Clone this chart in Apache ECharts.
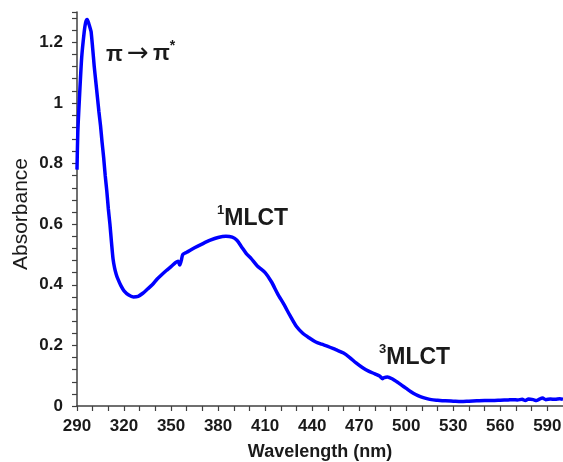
<!DOCTYPE html>
<html>
<head>
<meta charset="utf-8">
<script src="https://cdn.jsdelivr.net/npm/echarts@6/dist/echarts.min.js"></script>
<style>
  html, body { margin: 0; padding: 0; background: #fff; }
  #chart { width: 563px; height: 462px; }
</style>
</head>
<body>
<div id="chart"></div>
<script>
// UV-Vis absorption spectrum
const wavelength = [
  290, 290.5, 291.5, 293, 294.5, 295.5, 296.5, 297.5, 298.5, 299, 300, 301, 302, 303, 304, 305,
  306, 307, 308, 309, 310, 311, 312, 313, 314, 315, 316, 318, 320, 323, 326, 329, 332, 335,
  338, 341, 344, 347, 350, 353, 354.5, 355.5, 356.5, 357.5, 360, 365, 370, 375, 380, 385,
  389, 392, 395, 398, 401, 405, 410, 414, 418, 422, 426, 430, 434, 438, 442, 446, 450, 455,
  460, 464, 468, 472, 476, 480, 483, 485, 486, 488, 491, 494, 497, 500, 503, 506, 509, 512,
  516, 520, 525, 530, 535, 540, 545, 550, 555, 560, 565, 568, 571, 574, 576, 578, 581, 583,
  585, 587, 589, 592, 595, 598, 600
];
const absorbance = [
  0.78, 0.90, 1.01, 1.15, 1.23, 1.265, 1.275, 1.262, 1.245, 1.235, 1.18, 1.12, 1.07, 1.02, 0.97, 0.925,
  0.87, 0.82, 0.76, 0.71, 0.65, 0.60, 0.54, 0.485, 0.455, 0.435, 0.42, 0.397, 0.38, 0.366, 0.36, 0.362, 0.372, 0.386,
  0.40, 0.418, 0.433, 0.447, 0.46, 0.474, 0.478, 0.465, 0.48, 0.50, 0.507, 0.522, 0.535, 0.547, 0.556, 0.56,
  0.557, 0.547, 0.525, 0.503, 0.487, 0.462, 0.44, 0.41, 0.37, 0.335, 0.297, 0.262, 0.24, 0.225, 0.212, 0.204, 0.197, 0.186,
  0.175, 0.16, 0.142, 0.127, 0.115, 0.106, 0.099, 0.09, 0.094, 0.096, 0.09, 0.08, 0.069, 0.058, 0.047, 0.038, 0.031, 0.026,
  0.021, 0.019, 0.017, 0.016, 0.015, 0.016, 0.017, 0.018, 0.018, 0.019, 0.02, 0.021, 0.02, 0.022, 0.018, 0.023, 0.021, 0.018,
  0.023, 0.026, 0.021, 0.023, 0.022, 0.024, 0.022
];

const xLabelStep = 30;   // nm between labelled ticks
const yLabelStep = 0.2;  // absorbance between labelled ticks

const FONT = '"Liberation Sans", Arial, sans-serif';
const INK = '#1a1a1a';
const AXIS = '#404040';

const chart = echarts.init(document.getElementById('chart'), null, { renderer: 'canvas' });

chart.setOption({
  animation: false,
  backgroundColor: '#fff',
  grid: { left: 77, top: 12, width: 486, height: 394, containLabel: false, outerBoundsMode: 'none' },
  xAxis: {
    type: 'value',
    min: 290, max: 600, interval: 10,
    name: 'Wavelength (nm)',
    nameLocation: 'middle',
    nameGap: 37,
    nameTextStyle: { fontFamily: FONT, fontWeight: 'bold', fontSize: 18, color: INK },
    axisLine: { onZero: false, lineStyle: { color: AXIS, width: 1.5 } },
    axisTick: { show: true, length: 5, lineStyle: { color: AXIS, width: 1.2 } },
    splitLine: { show: false },
    axisLabel: {
      margin: 12,
      fontFamily: FONT, fontWeight: 'bold', fontSize: 17, color: INK,
      showMaxLabel: false,
      formatter: v => ((v - 290) % xLabelStep === 0 && v < 600) ? String(v) : ''
    }
  },
  yAxis: {
    type: 'value',
    min: 0, max: 1.3, interval: 0.04,
    axisLine: { show: true, onZero: false, lineStyle: { color: AXIS, width: 1.5 } },
    axisTick: { show: true, length: 5, lineStyle: { color: AXIS, width: 1.2 } },
    splitLine: { show: false },
    axisLabel: {
      margin: 14,
      fontFamily: FONT, fontWeight: 'bold', fontSize: 17, color: INK,
      formatter: v => {
        const k = v / yLabelStep;
        if (Math.abs(k - Math.round(k)) > 1e-6) return '';
        return String(Math.round(v * 10) / 10);
      }
    }
  },
  series: [{
    type: 'line',
    data: wavelength.map((w, i) => [w, absorbance[i]]),
    showSymbol: false,
    smooth: 0.25,
    clip: true,
    lineStyle: { color: '#0000ff', width: 3.5 },
    z: 3
  }],
  graphic: [
    {
      // y-axis title
      type: 'text', x: 21, y: 214, rotation: Math.PI / 2,
      style: {
        text: 'Absorbance',
        fontFamily: FONT, fontSize: 21, fill: INK,
        align: 'center', verticalAlign: 'middle'
      }
    },
    {
      type: 'text', x: 106, y: 55,
      style: { text: 'π', fontFamily: FONT, fontWeight: 'bold', fontSize: 22, fill: INK, verticalAlign: 'middle' }
    },
    {
      type: 'text', x: 127, y: 54,
      style: { text: '→', fontFamily: '"DejaVu Sans", sans-serif', fontSize: 26, fill: INK, verticalAlign: 'middle' }
    },
    {
      type: 'text', x: 153, y: 52,
      style: {
        text: '{p|π}{s|*}',
        verticalAlign: 'middle',
        rich: {
          p: { fontFamily: FONT, fontWeight: 'bold', fontSize: 22, fill: INK, lineHeight: 26, verticalAlign: 'bottom' },
          s: { fontFamily: FONT, fontWeight: 'bold', fontSize: 14, fill: INK, lineHeight: 26, verticalAlign: 'top' }
        }
      }
    },
    {
      type: 'text', left: 217, top: 204,
      style: {
        text: '{s|1}{m|MLCT}',
        rich: {
          s: { fontFamily: FONT, fontWeight: 'bold', fontSize: 13, fill: INK, lineHeight: 26, verticalAlign: 'top' },
          m: { fontFamily: FONT, fontWeight: 'bold', fontSize: 23, fill: INK, lineHeight: 26, verticalAlign: 'bottom' }
        }
      }
    },
    {
      type: 'text', left: 379, top: 343,
      style: {
        text: '{s|3}{m|MLCT}',
        rich: {
          s: { fontFamily: FONT, fontWeight: 'bold', fontSize: 13, fill: INK, lineHeight: 26, verticalAlign: 'top' },
          m: { fontFamily: FONT, fontWeight: 'bold', fontSize: 23, fill: INK, lineHeight: 26, verticalAlign: 'bottom' }
        }
      }
    }
  ]
});
</script>
</body>
</html>
